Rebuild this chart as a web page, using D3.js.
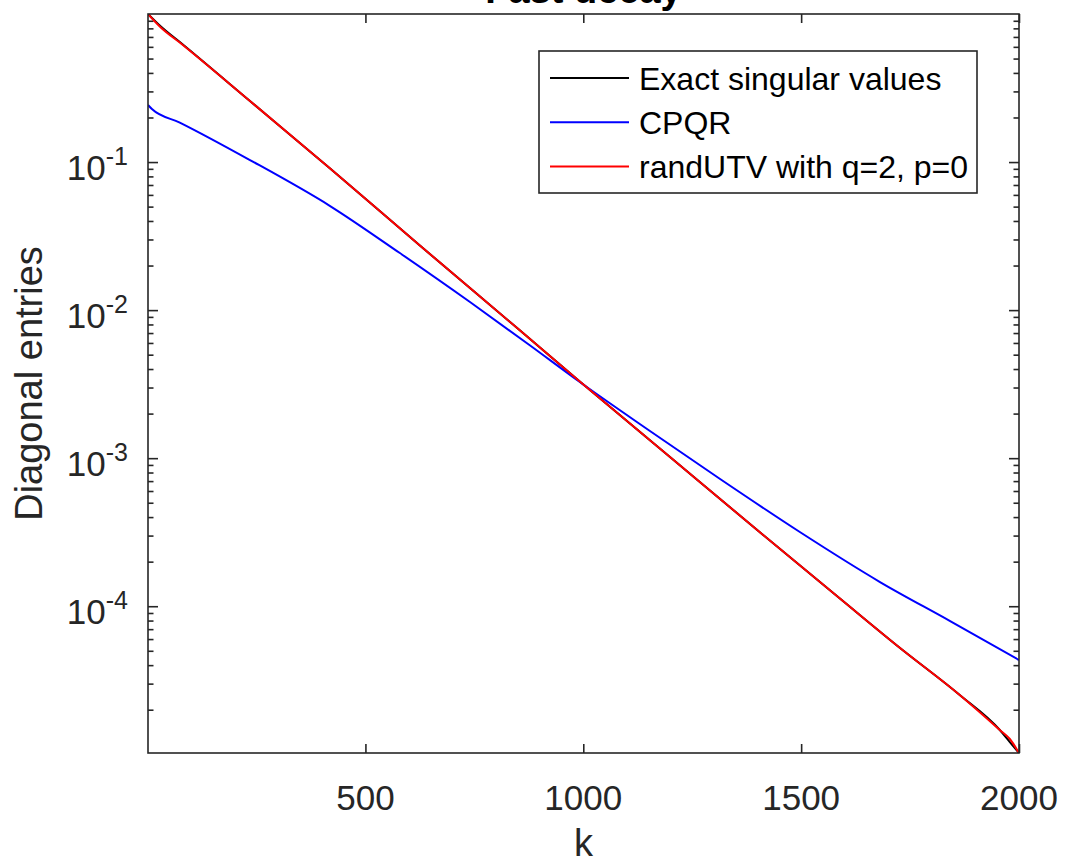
<!DOCTYPE html>
<html>
<head>
<meta charset="utf-8">
<script src="https://cdn.jsdelivr.net/npm/d3@7"></script>
<style>
  body { margin: 0; background: #fff; }
  svg { display: block; font-family: 'Liberation Sans', Arial, Helvetica, sans-serif; }
</style>
</head>
<body>
<script>
// values
const kExact = [1, 28, 81, 235, 419, 625, 855, 992, 1199, 1406, 1589, 1727, 1864, 1956, 1979, 2000];
const exactSV = [1.0, 0.836, 0.622, 0.2584, 0.0904, 0.0273, 0.00728, 0.003294, 0.001018,
  3.146e-4, 1.127e-4, 5.22e-5, 2.513e-5, 1.458e-5, 1.21e-5, 1.02e-5];
const randUTV = [1.0, 0.823, 0.618, 0.2584, 0.0904, 0.0273, 0.00728, 0.003294, 0.001018,
  3.146e-4, 1.127e-4, 5.22e-5, 2.513e-5, 1.458e-5, 1.268e-5, 1.02e-5];

const kCPQR = [1, 10, 74, 235, 419, 579, 740, 878, 992, 1153, 1314, 1497, 1681, 1842, 2000];
const cpqr = [0.2428, 0.2282, 0.1849, 0.1032, 0.05045, 0.02429, 0.01134, 0.005767, 0.003268,
  0.001526, 7.23e-4, 3.17e-4, 1.457e-4, 7.94e-5, 4.33e-5];

const seriesNames = ['Exact singular values', 'CPQR', 'randUTV with q=2, p=0'];
const seriesColors = ['#000000', '#0000ff', '#ff0000'];

const xTicks = [500, 1000, 1500, 2000];
const yMajor = [1e-1, 1e-2, 1e-3, 1e-4];
const xLabel = 'k';
const yLabel = 'Diagonal entries';
const title = 'Fast decay';

const W = 1065, H = 864;
const margin = { top: 14, right: 46, bottom: 111, left: 148 };
const w = W - margin.left - margin.right;
const h = H - margin.top - margin.bottom;
const axisColor = '#262626';

const svg = d3.select('body').append('svg')
  .attr('width', W)
  .attr('height', H);

const x = d3.scaleLinear().domain([1, 2000]).range([0, w]);
const y = d3.scaleLog().domain([1.02e-5, 1]).range([h, 0]);

const g = svg.append('g')
  .attr('transform', 'translate(' + margin.left + ',' + margin.top + ')');

// minor ticks on the log axis: 2..9 of each decade inside the domain
const yMinor = [];
for (let e = -5; e <= -1; e++) {
  for (let m = 2; m <= 9; m++) {
    const v = m * Math.pow(10, e);
    if (v > y.domain()[0] && v < y.domain()[1]) yMinor.push(v);
  }
}

const styleAxis = sel => {
  sel.select('.domain').remove();
  sel.selectAll('line').attr('stroke', axisColor).attr('stroke-width', 1.6);
};

g.append('g').call(d3.axisBottom(x).tickValues(xTicks).tickSize(-9).tickFormat(''))
  .attr('transform', 'translate(0,' + h + ')').call(styleAxis);
g.append('g').call(d3.axisTop(x).tickValues(xTicks).tickSize(-9).tickFormat('')).call(styleAxis);
g.append('g').call(d3.axisLeft(y).tickValues(yMajor).tickSize(-10).tickFormat('')).call(styleAxis);
g.append('g').call(d3.axisLeft(y).tickValues(yMinor).tickSize(-5.5).tickFormat('')).call(styleAxis);
g.append('g').attr('transform', 'translate(' + w + ',0)')
  .call(d3.axisRight(y).tickValues(yMajor).tickSize(-10).tickFormat('')).call(styleAxis);
g.append('g').attr('transform', 'translate(' + w + ',0)')
  .call(d3.axisRight(y).tickValues(yMinor).tickSize(-5.5).tickFormat('')).call(styleAxis);

// tick labels
g.selectAll('.xlab').data(xTicks).join('text')
  .attr('class', 'xlab')
  .attr('x', d => x(d))
  .attr('y', h + 57)
  .attr('text-anchor', 'middle')
  .attr('fill', axisColor)
  .style('font-size', '35px')
  .text(d => d);

const ylab = g.selectAll('.ylab').data(yMajor).join('text')
  .attr('class', 'ylab')
  .attr('x', -20)
  .attr('y', d => y(d) + 18)
  .attr('text-anchor', 'end')
  .attr('fill', axisColor)
  .style('font-size', '35px');
ylab.append('tspan').text('10');
ylab.append('tspan')
  .attr('dy', -15)
  .style('font-size', '25px')
  .text(d => Math.round(Math.log10(d)));

// data lines
const line = d3.line()
  .x(d => x(d.k))
  .y(d => y(d.v))
  .curve(d3.curveMonotoneX);

const series = [
  kExact.map((k, i) => ({ k: k, v: exactSV[i] })),
  kCPQR.map((k, i) => ({ k: k, v: cpqr[i] })),
  kExact.map((k, i) => ({ k: k, v: randUTV[i] }))
];

g.append('defs').append('clipPath').attr('id', 'plotclip')
  .append('rect').attr('width', w).attr('height', h);

g.append('g').attr('clip-path', 'url(#plotclip)')
  .selectAll('path').data(series).join('path')
  .attr('d', line)
  .attr('fill', 'none')
  .attr('stroke', (d, i) => seriesColors[i])
  .attr('stroke-width', 2);

// frame
g.append('rect')
  .attr('width', w).attr('height', h)
  .attr('fill', 'none')
  .attr('stroke', axisColor)
  .attr('stroke-width', 1.6);

// axis labels and title
g.append('text')
  .attr('x', w / 2).attr('y', h + 103)
  .attr('text-anchor', 'middle')
  .attr('fill', axisColor)
  .style('font-size', '38px')
  .text(xLabel);

g.append('text')
  .attr('transform', 'translate(' + (42 - margin.left) + ',' + (h / 2) + ') rotate(-90)')
  .attr('text-anchor', 'middle')
  .attr('fill', axisColor)
  .style('font-size', '38px')
  .text(yLabel);

// title sits mostly above the picture's top edge, as in the reference
svg.append('text')
  .attr('x', margin.left + w / 2).attr('y', 3)
  .attr('text-anchor', 'middle')
  .attr('fill', '#000')
  .style('font-size', '38px')
  .style('font-weight', 'bold')
  .text(title);

// legend
const legend = svg.append('g').attr('transform', 'translate(539,51)');
legend.append('rect')
  .attr('width', 438).attr('height', 142)
  .attr('fill', '#fff')
  .attr('stroke', axisColor)
  .attr('stroke-width', 1.6);

const rows = legend.selectAll('.row').data(seriesNames).join('g')
  .attr('class', 'row')
  .attr('transform', (d, i) => 'translate(0,' + (27 + i * 44.2) + ')');
rows.append('line')
  .attr('x1', 11).attr('x2', 90)
  .attr('stroke', (d, i) => seriesColors[i])
  .attr('stroke-width', 2);
rows.append('text')
  .attr('x', 100).attr('y', 12)
  .attr('fill', '#000')
  .style('font-size', '32px')
  .text(d => d);
</script>
</body>
</html>
